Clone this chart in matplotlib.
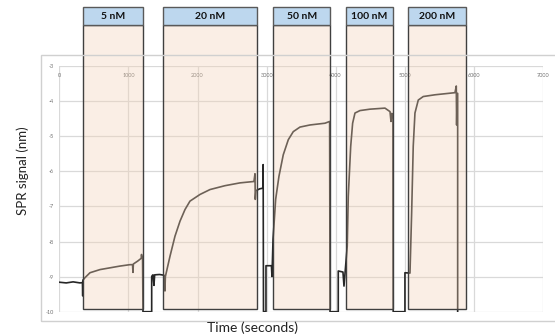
import matplotlib
matplotlib.use("Agg")
from matplotlib import pyplot as plt
from matplotlib.patches import Rectangle

plt.rcParams['axes.unicode_minus'] = False
plt.rcParams['font.family'] = ['Lato', 'DejaVu Sans']

# injection windows (seconds) and their labels
conc_labels = ['5 nM', '20 nM', '50 nM', '100 nM', '200 nM']
inj_start = [339, 1505, 3097, 4145, 5051]
inj_end = [1216, 2857, 3918, 4834, 5881]

# SPR trace
time_s = [0, 100, 200, 300, 335, 339, 342, 372, 444, 589, 734, 878, 1022, 1060,
          1066, 1072, 1133, 1185, 1190, 1197, 1205, 1211,
          1337, 1337, 1345, 1356, 1370, 1380, 1450, 1515, 1529, 1535, 1602, 1674,
          1747, 1819, 1891, 2036, 2181, 2397, 2615, 2817, 2832, 2836, 2846, 2900,
          2945, 2950, 2955,
          2991, 2991, 3070, 3078, 3093, 3131, 3179, 3241, 3314, 3386, 3483, 3628,
          3845, 3912, 3918,
          4037, 4037, 4105, 4120, 4167, 4182, 4217, 4245, 4279, 4351, 4496, 4713,
          4786, 4800, 4812, 4829, 4832,
          5002, 5002, 5075, 5099, 5122, 5147, 5195, 5267, 5437, 5726, 5745, 5750,
          5758, 5765, 5765]
signal = [-9.16, -9.18, -9.15, -9.18, -9.17, -9.55, -9.10, -9.03, -8.89, -8.80,
          -8.75, -8.70, -8.66, -8.66, -8.88, -8.64, -8.56, -8.48, -8.37, -8.46,
          -8.46, -10.0,
          -10.0, -9.00, -8.97, -8.95, -9.25, -8.95, -8.94, -8.96, -9.41, -9.00,
          -8.42, -7.85, -7.42, -7.09, -6.85, -6.66, -6.52, -6.41, -6.33, -6.29,
          -6.07, -6.80, -6.55, -6.50, -6.48, -5.81, -10.0,
          -10.0, -8.69, -8.69, -9.00, -7.94, -6.80, -6.14, -5.53, -5.10, -4.87,
          -4.74, -4.68, -4.63, -4.58, -10.0,
          -10.0, -8.84, -8.87, -9.27, -8.13, -6.71, -5.29, -4.63, -4.34, -4.27,
          -4.23, -4.20, -4.30, -4.58, -4.35, -4.40, -10.0,
          -10.0, -8.89, -8.90, -7.19, -5.29, -4.34, -3.97, -3.87, -3.82, -3.76,
          -3.57, -4.68, -3.78, -3.78, -10.0]

x_ticks = [0, 1000, 2000, 3000, 4000, 5000, 6000, 7000]
y_ticks = [-10, -9, -8, -7, -6, -5, -4, -3]

fig = plt.figure(figsize=(5.55, 3.34), dpi=100)
fig.patch.set_facecolor('white')

# outer chart frame
fig.patches.append(Rectangle((41 / 555, 1 - 320.7 / 334), 1.0, (320.7 - 55) / 334,
                             transform=fig.transFigure, fill=False,
                             edgecolor='#d0d0d0', lw=1.0))

ax = fig.add_axes([59.3 / 555, 1 - 311.7 / 334, (543 - 59.3) / 555, (311.7 - 66) / 334])
ax.plot(time_s, signal, color='#262626', lw=1.2, zorder=2)

ax.set_xlim(0, 7000)
ax.set_ylim(-10, -3)
ax.set_xticks(x_ticks)
ax.set_yticks(y_ticks)
ax.grid(True, color='#d9d9d9', lw=0.9)
ax.set_axisbelow(True)
for s in ax.spines.values():
    s.set_visible(False)
ax.tick_params(axis='x', top=True, bottom=False, labeltop=True, labelbottom=False,
               length=0, pad=-8.5, labelsize=4, labelcolor='#707070')
ax.tick_params(axis='y', length=0, pad=4, labelsize=4, labelcolor='#707070')

# injection boxes (translucent, over the trace)
body_top = -1.844
head_top = -1.324
box_bottom = -9.92
for lab, a, b in zip(conc_labels, inj_start, inj_end):
    ax.add_patch(Rectangle((a, box_bottom), b - a, body_top - box_bottom,
                           facecolor=(0.954, 0.82, 0.71, 0.35), edgecolor='#3f3f3f',
                           lw=1.0, zorder=3, clip_on=False))
    ax.add_patch(Rectangle((a, body_top), b - a, head_top - body_top,
                           facecolor='#bdd7ee', edgecolor='#595959',
                           lw=1.0, zorder=3, clip_on=False))
    ax.text((a + b) / 2, (body_top + head_top) / 2, lab, ha='center', va='center',
            fontsize=7.5, fontweight='bold', color='#111111', zorder=4, clip_on=False)

fig.text(22.5 / 555, 1 - 171 / 334, 'SPR signal (nm)', rotation=90,
         ha='center', va='center', fontsize=9.5, color='#222222')
fig.text(252.6 / 555, 1 - 332 / 334, 'Time (seconds)', ha='center', va='baseline',
         fontsize=10, color='#222222')

fig.savefig('out.png', dpi=100)
